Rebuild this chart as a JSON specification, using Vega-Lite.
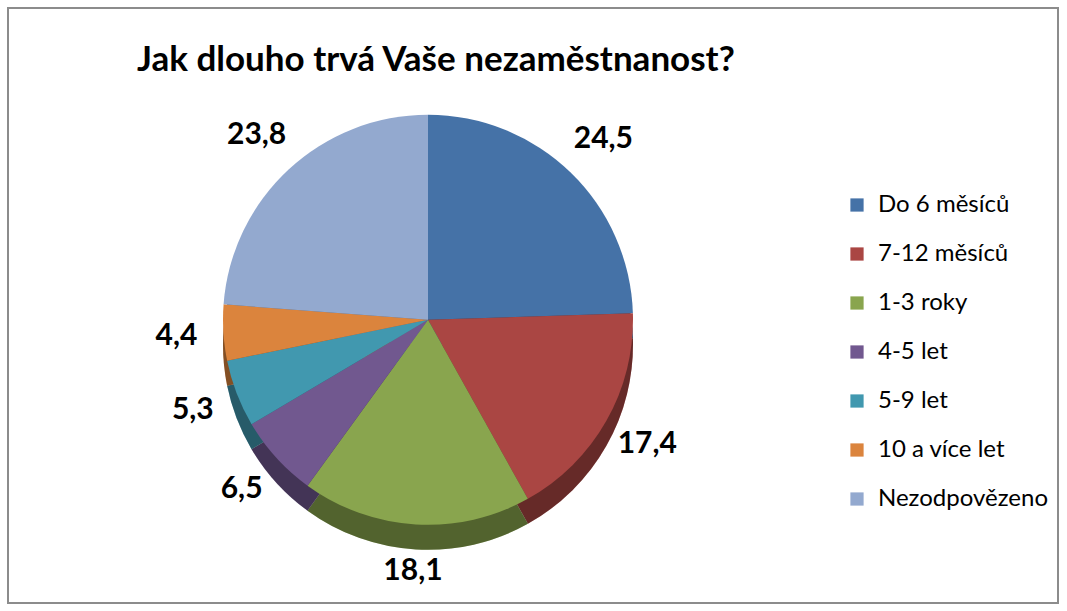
{
  "$schema": "https://vega.github.io/schema/vega-lite/v6.json",
  "width": 1050,
  "height": 595,
  "padding": {"left": 8, "top": 8, "right": 9, "bottom": 8},
  "background": "white",
  "title": {
    "text": "Jak dlouho trvá Vaše nezaměstnanost?",
    "anchor": "start",
    "frame": "group",
    "offset": -70,
    "dx": 129,
    "fontSize": 35,
    "font": "Lato",
    "fontWeight": "bold",
    "color": "black"
  },
  "data": {
    "values": [
      {"kategorie": "Do 6 měsíců", "hodnota": 24.5, "poradi": 1},
      {"kategorie": "7-12 měsíců", "hodnota": 17.4, "poradi": 2},
      {"kategorie": "1-3 roky", "hodnota": 18.1, "poradi": 3},
      {"kategorie": "4-5 let", "hodnota": 6.5, "poradi": 4},
      {"kategorie": "5-9 let", "hodnota": 5.3, "poradi": 5},
      {"kategorie": "10 a více let", "hodnota": 4.4, "poradi": 6},
      {"kategorie": "Nezodpovězeno", "hodnota": 23.8, "poradi": 7}
    ]
  },
  "encoding": {
    "theta": {"field": "hodnota", "type": "quantitative", "stack": true},
    "order": {"field": "poradi", "type": "quantitative"},
    "x": {"datum": 0.4, "type": "quantitative", "scale": {"domain": [0, 1]}, "axis": null},
    "y": {"datum": 0.476, "type": "quantitative", "scale": {"domain": [0, 1]}, "axis": null}
  },
  "layer": [
    {
      "mark": {"type": "arc", "radius": 205, "yOffset": 25},
      "encoding": {
        "color": {
          "field": "kategorie",
          "type": "nominal",
          "sort": null,
          "scale": {
            "domain": ["Do 6 měsíců", "7-12 měsíců", "1-3 roky", "4-5 let", "5-9 let", "10 a více let", "Nezodpovězeno"],
            "range": ["#4572A7", "#AA4643", "#89A54E", "#71588F", "#4198AF", "#DB843D", "#93A9CF"]
          }
        }
      }
    },
    {
      "mark": {"type": "arc", "radius": 205, "yOffset": 25, "color": "black", "opacity": 0.4},
      "encoding": {}
    },
    {
      "mark": {"type": "arc", "radius": 205},
      "encoding": {
        "color": {"field": "kategorie", "type": "nominal", "sort": null}
      }
    },
    {
      "mark": {"type": "text", "radius": 252, "fontSize": 30, "font": "Lato", "fontWeight": "bold", "color": "black"},
      "encoding": {
        "text": {"field": "hodnota", "type": "quantitative", "format": ".1f"}
      }
    }
  ],
  "config": {
    "view": {"stroke": "#8c8c8c", "strokeWidth": 2},
    "legend": {
      "title": null,
      "orient": "none",
      "legendX": 837,
      "legendY": 185,
      "symbolType": "square",
      "symbolSize": 175,
      "symbolStrokeWidth": 0,
      "labelFontSize": 24,
      "labelFont": "Lato",
      "labelColor": "black",
      "labelOffset": 9,
      "rowPadding": 25,
      "labelLimit": 300
    },
    "locale": {
      "number": {"decimal": ",", "thousands": " ", "grouping": [3], "currency": ["", " Kč"]}
    }
  }
}
